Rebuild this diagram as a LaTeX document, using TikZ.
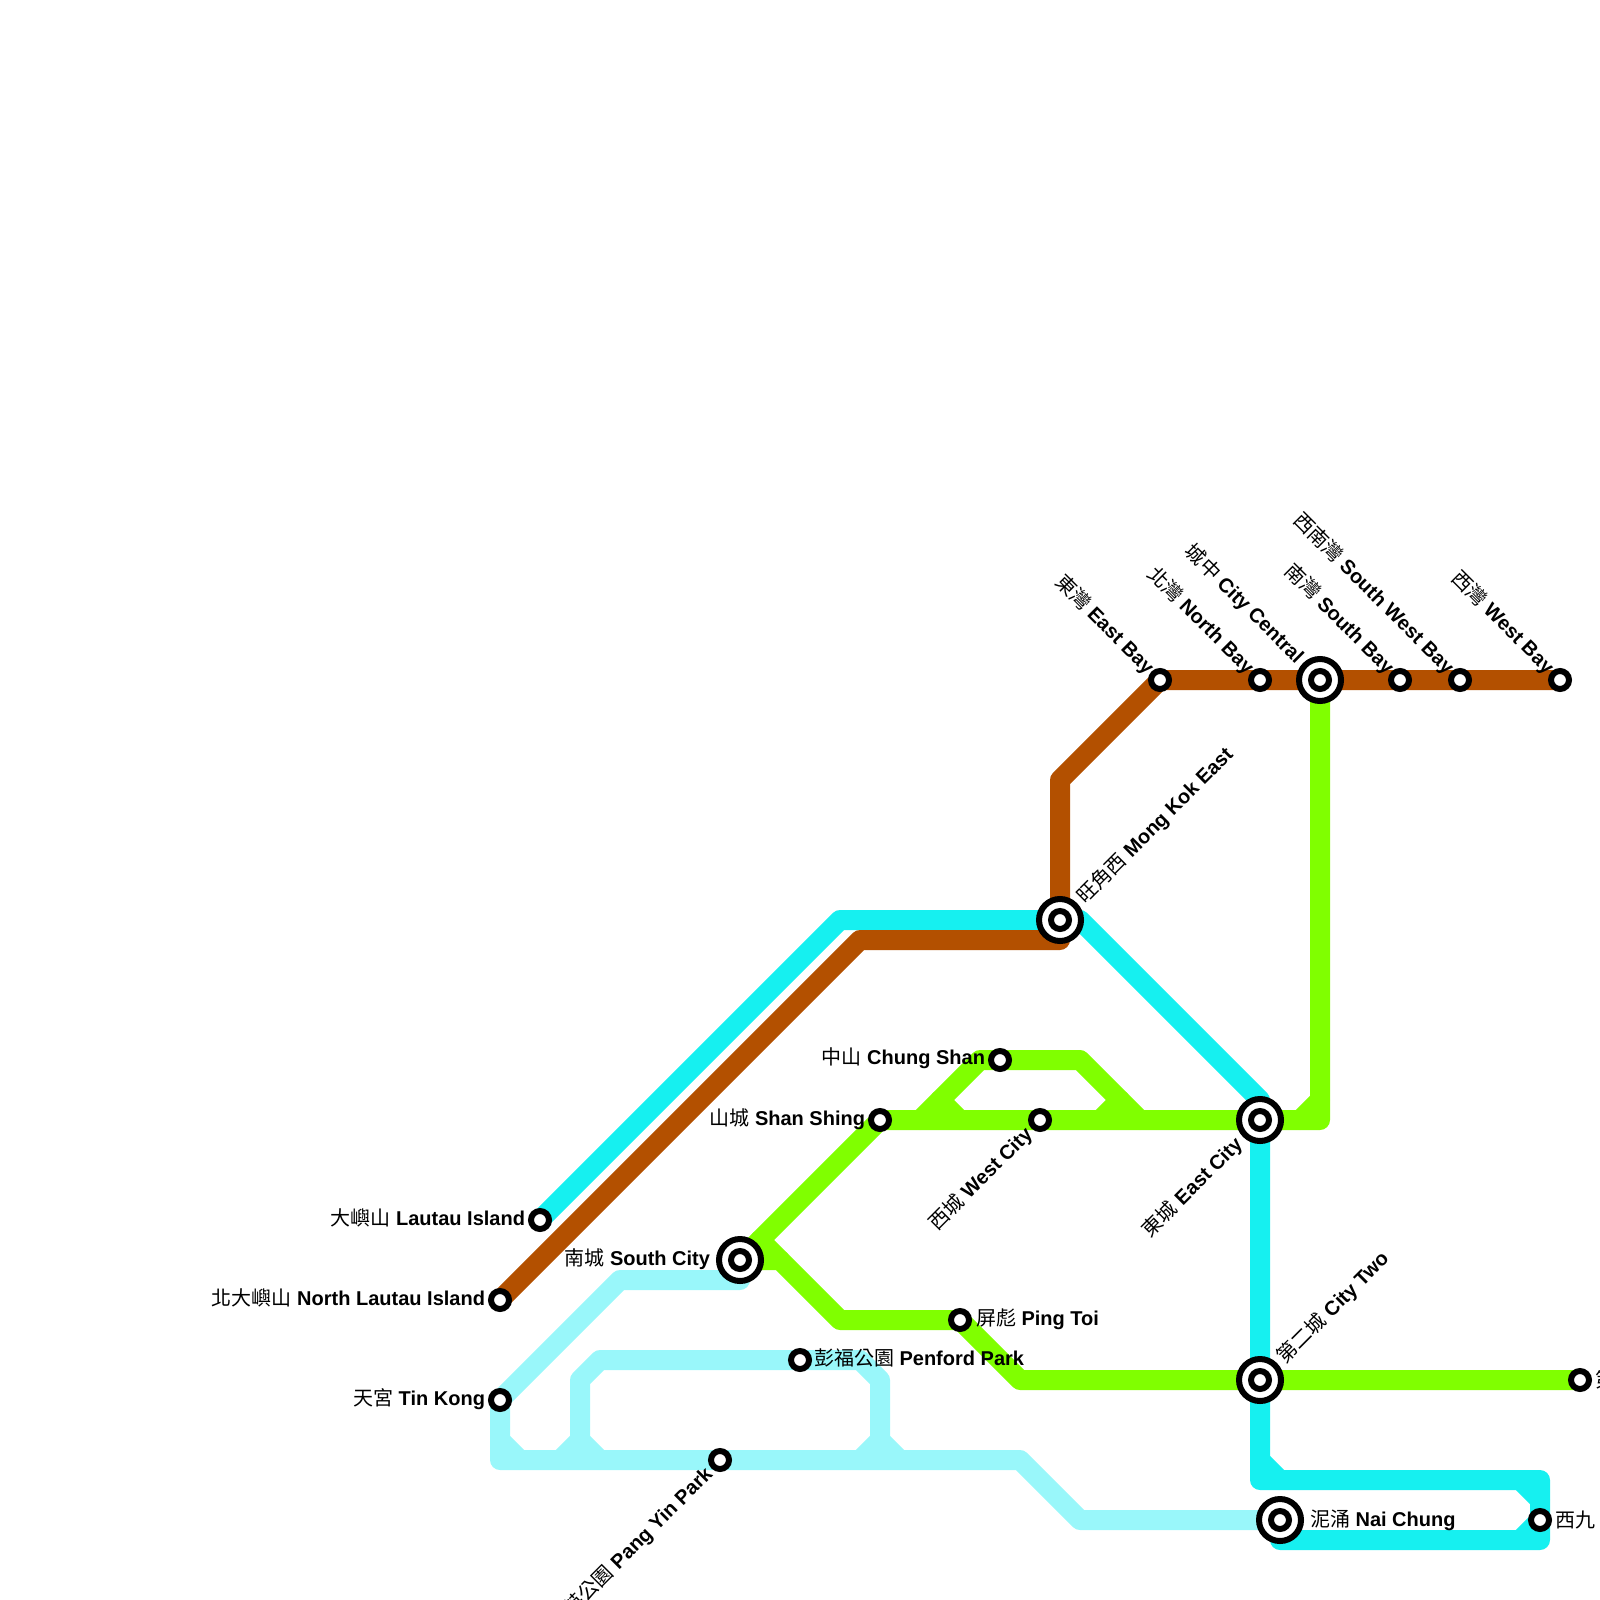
\documentclass[tikz,border=0pt]{standalone}
\usepackage{xcolor}
\usepackage{fontspec}
\usepackage{tikz}
\usetikzlibrary{backgrounds}
\setmainfont{Liberation Sans}
\newfontfamily\cjk{Noto Sans CJK TC}
\definecolor{linebrown}{RGB}{179, 80, 0}
\definecolor{linecyan}{RGB}{22, 240, 240}
\definecolor{linegreen}{RGB}{128, 255, 0}
\definecolor{linepale}{RGB}{153, 247, 250}
\tikzset{
    routeline/.style={line width=20pt, line cap=round, line join=round},
    stationnode/.style={circle, draw=black, fill=white, line width=6pt, minimum size=18pt, inner sep=0pt, outer sep=0pt},
    hubnode/.style={circle, draw=black, fill=white, line width=6pt, minimum size=42pt, inner sep=0pt, outer sep=0pt},
    stationlabel/.style={inner sep=0pt, outer sep=0pt, text=black, font=\fontsize{20}{24}\selectfont\bfseries}
}

\begin{document}
\begin{tikzpicture}[x=1pt, y=-1pt]
    \useasboundingbox (0,0) rectangle (1600,1600);

    % Plain stops and interchanges
    \foreach \name/\x/\y in {eastbay/1160/680, northbay/1260/680, southbay/1400/680, southwestbay/1460/680, westbay/1560/680,
        chungshan/1000/1060, shanshing/880/1120, westcity/1040/1120, lautau/540/1220, northlautau/500/1300, tinkong/500/1400,
        pingtoi/960/1320, penford/800/1360, pangyin/720/1460, cityend/1580/1380, westnine/1540/1520}
        \node[stationnode] (\name) at (\x,\y) {};
    \foreach \name/\x/\y in {citycentral/1320/680, mongkok/1060/920, eastcity/1260/1120, southcity/740/1260, citytwo/1260/1380, naichung/1280/1520} {
        \node[hubnode] (\name) at (\x,\y) {};
        \node[stationnode] (\name core) at (\x,\y) {};
    }

    % Routes sit under the stations
    \begin{scope}[on background layer]
        % Pale line and its short links
        \draw[routeline, color=linepale] (740,1280) -- (620,1280) -- (tinkong.center) -- (500,1460) -- (pangyin.center) -- (1020,1460) -- (1080,1520) -- (naichung.center);
        \draw[routeline, color=linepale] (500,1440) -- (520,1460);
        \draw[routeline, color=linepale] (560,1460) -- (580,1440) -- (600,1460);
        \draw[routeline, color=linepale] (860,1460) -- (880,1440) -- (900,1460);
        \draw[routeline, color=linepale] (580,1440) -- (580,1380) -- (600,1360) -- (penford.center) -- (860,1360) -- (880,1380) -- (880,1440);
        % Cyan line
        \draw[routeline, color=linecyan] (lautau.center) -- (840,920) -- (1080,920) -- (1260,1100) -- (citytwo.center) -- (1260,1480) -- (1540,1480) -- (1540,1540) -- (1280,1540) -- (naichung.center);
        \draw[routeline, color=linecyan] (1260,1460) -- (1280,1480);
        \draw[routeline, color=linecyan] (1520,1480) -- (1540,1500);
        \draw[routeline, color=linecyan] (1520,1540) -- (westnine.center);
        % Green line
        \draw[routeline, color=linegreen] (citycentral.center) -- (1320,1120) -- (westcity.center) -- (shanshing.center) -- (southcity.center) -- (780,1260) -- (840,1320) -- (pingtoi.center) -- (1020,1380) -- (cityend.center);
        \draw[routeline, color=linegreen] (1300,1120) -- (1320,1100);
        \draw[routeline, color=linegreen] (760,1240) -- (780,1260);
        \draw[routeline, color=linegreen] (920,1120) -- (980,1060) -- (chungshan.center) -- (1080,1060) -- (1140,1120);
        \draw[routeline, color=linegreen] (940,1100) -- (960,1120);
        \draw[routeline, color=linegreen] (1120,1100) -- (1100,1120);
        % Brown line
        \draw[routeline, color=linebrown] (westbay.center) -- (eastbay.center) -- (1060,780) -- (1060,940) -- (860,940) -- (northlautau.center);
    \end{scope}

    % Labels up and to the left of the top row
    \node[stationlabel, rotate=-45, anchor=east] (eastbaylabel) at ([shift={(-9.5,-9.5)}]eastbay.center) {{\cjk\mdseries 東灣} East Bay};
    \node[stationlabel, rotate=-45, anchor=east] (northbaylabel) at ([shift={(-9.5,-9.5)}]northbay.center) {{\cjk\mdseries 北灣} North Bay};
    \node[stationlabel, rotate=-45, anchor=east] (citycentrallabel) at ([shift={(-20,-20)}]citycentral.center) {{\cjk\mdseries 城中} City Central};
    \node[stationlabel, rotate=-45, anchor=east] (southbaylabel) at ([shift={(-9.5,-9.5)}]southbay.center) {{\cjk\mdseries 南灣} South Bay};
    \node[stationlabel, rotate=-45, anchor=east] (southwestbaylabel) at ([shift={(-9.5,-9.5)}]southwestbay.center) {{\cjk\mdseries 西南灣} South West Bay};
    \node[stationlabel, rotate=-45, anchor=east] (westbaylabel) at ([shift={(-9.5,-9.5)}]westbay.center) {{\cjk\mdseries 西灣} West Bay};

    % Diagonal labels
    \node[stationlabel, rotate=45, anchor=west] (mongkoklabel) at ([shift={(21,-20)}]mongkok.center) {{\cjk\mdseries 旺角西} Mong Kok East};
    \node[stationlabel, rotate=45, anchor=west] (citytwolabel) at ([shift={(21,-20)}]citytwo.center) {{\cjk\mdseries 第二城} City Two};
    \node[stationlabel, rotate=45, anchor=east] (westcitylabel) at ([shift={(-11,11)}]westcity.center) {{\cjk\mdseries 西城} West City};
    \node[stationlabel, rotate=45, anchor=east] (eastcitylabel) at ([shift={(-21,21)}]eastcity.center) {{\cjk\mdseries 東城} East City};
    \node[stationlabel, rotate=45, anchor=east] (pangyinlabel) at ([shift={(-11,11)}]pangyin.center) {{\cjk\mdseries 英公園} Pang Yin Park};

    % Level labels
    \node[stationlabel, anchor=east] (chungshanlabel) at ([shift={(-15,-1.5)}]chungshan.center) {{\cjk\mdseries 中山} Chung Shan};
    \node[stationlabel, anchor=east] (shanshinglabel) at ([shift={(-15,-1)}]shanshing.center) {{\cjk\mdseries 山城} Shan Shing};
    \node[stationlabel, anchor=east] (lautaulabel) at ([shift={(-15,-2)}]lautau.center) {{\cjk\mdseries 大嶼山} Lautau Island};
    \node[stationlabel, anchor=east] (northlautaulabel) at ([shift={(-15,-2)}]northlautau.center) {{\cjk\mdseries 北大嶼山} North Lautau Island};
    \node[stationlabel, anchor=east] (tinkonglabel) at ([shift={(-15,-1)}]tinkong.center) {{\cjk\mdseries 天宮} Tin Kong};
    \node[stationlabel, anchor=east] (southcitylabel) at ([shift={(-30,-1)}]southcity.center) {{\cjk\mdseries 南城} South City};
    \node[stationlabel, anchor=west] (pingtoilabel) at ([shift={(16,-1)}]pingtoi.center) {{\cjk\mdseries 屏彪} Ping Toi};
    \node[stationlabel, anchor=west] (penfordlabel) at ([shift={(14,-2)}]penford.center) {{\cjk\mdseries 彭福公園} Penford Park};
    \node[stationlabel, anchor=west] (naichunglabel) at ([xshift=30pt]naichung.center) {{\cjk\mdseries 泥涌} Nai Chung};
    \node[stationlabel, anchor=west] (westninelabel) at ([xshift=15pt]westnine.center) {{\cjk\mdseries 西九}};
    \node[stationlabel, anchor=west] (cityendlabel) at ([xshift=15pt]cityend.center) {{\cjk\mdseries 第}};
\end{tikzpicture}
\end{document}
